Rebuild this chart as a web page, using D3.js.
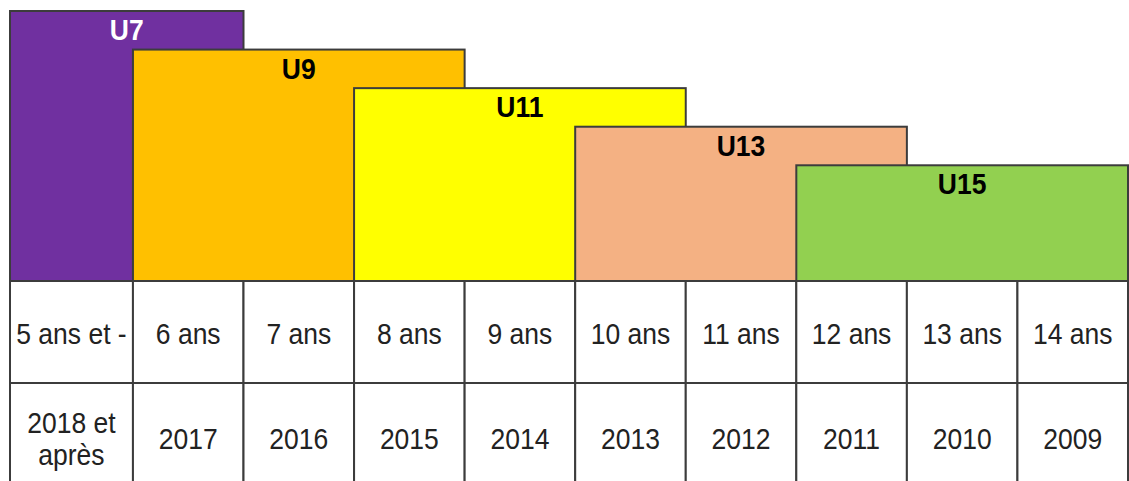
<!DOCTYPE html>
<html>
<head>
<meta charset="utf-8">
<script src="https://cdn.jsdelivr.net/npm/d3@7"></script>
<style>
  body { margin: 0; background: #fff; }
  svg { display: block; font-family: "Liberation Sans", Arial, sans-serif; }
</style>
</head>
<body>
<div id="chart-area"></div>
<script>
// table columns
const ages = ["5 ans et -", "6 ans", "7 ans", "8 ans", "9 ans", "10 ans", "11 ans", "12 ans", "13 ans", "14 ans"];
const years = ["2018 et\naprès", "2017", "2016", "2015", "2014", "2013", "2012", "2011", "2010", "2009"];

// categories: first / last column covered, and stacking level
const categories = ["U7", "U9", "U11", "U13", "U15"];
const firstCol = [0, 1, 3, 5, 7];
const lastCol = [1, 3, 5, 7, 9];
const levels = [7, 6, 5, 4, 3];

const fills = ["#7030a0", "#ffc000", "#ffff00", "#f4b183", "#92d050"];
const labelColors = ["#ffffff", "#000000", "#000000", "#000000", "#000000"];

const chartSize = { width: 1129, height: 481 };
const left = 10, right = 1128;
const blockTop = 11, blockBottom = 281;
const tableRows = [281, 383, 490];
const firstColWeight = 1.112;
const lineColor = "#3c3c3c";
const fontSize = 26.5;
const stretch = "scale(1,1.09)";

// column edges in "units" (first column is a bit wider)
const edges = [0];
ages.forEach((a, i) => edges.push(edges[i] + (i === 0 ? firstColWeight : 1)));

const x = d3.scaleLinear()
  .domain([0, edges[edges.length - 1]])
  .range([left, right]);

const y = d3.scaleLinear()
  .domain([0, d3.max(levels)])
  .range([blockBottom, blockTop]);

const colMid = c => (x(edges[c]) + x(edges[c + 1])) / 2;

const svg = d3.select("#chart-area")
  .append("svg")
  .attr("width", chartSize.width)
  .attr("height", chartSize.height);

// table cells
const cells = [];
ages.forEach((a, i) => {
  cells.push({ col: i, row: 0, text: a });
  cells.push({ col: i, row: 1, text: years[i] });
});

svg.append("g").selectAll("rect")
  .data(cells)
  .join("rect")
  .attr("x", d => x(edges[d.col]))
  .attr("y", d => tableRows[d.row])
  .attr("width", d => x(edges[d.col + 1]) - x(edges[d.col]))
  .attr("height", d => tableRows[d.row + 1] - tableRows[d.row])
  .attr("fill", "#fff")
  .attr("stroke", lineColor)
  .attr("stroke-width", 2);

const texts = svg.append("g").selectAll("text")
  .data(cells)
  .join("text")
  .attr("text-anchor", "middle")
  .attr("font-size", fontSize)
  .attr("fill", "#222")
  .attr("transform", d => `translate(${colMid(d.col)},${(tableRows[d.row] + tableRows[d.row + 1]) / 2 + 2}) ${stretch}`);

texts.each(function(d) {
  const lines = d.text.split("\n");
  const lh = 29;
  d3.select(this).selectAll("tspan")
    .data(lines)
    .join("tspan")
    .attr("x", 0)
    .attr("dy", (l, i) => i === 0 ? `${0.36 * fontSize - (lines.length - 1) * lh / 2}px` : `${lh}px`)
    .text(l => l);
});

// category blocks
const blocks = categories.map((c, i) => ({
  name: c, from: firstCol[i], to: lastCol[i], level: levels[i],
  fill: fills[i], color: labelColors[i]
}));

const bg = svg.append("g").selectAll("g")
  .data(blocks)
  .join("g");

bg.append("rect")
  .attr("x", d => x(edges[d.from]))
  .attr("y", d => y(d.level))
  .attr("width", d => x(edges[d.to + 1]) - x(edges[d.from]))
  .attr("height", d => y(0) - y(d.level))
  .attr("fill", d => d.fill)
  .attr("stroke", lineColor)
  .attr("stroke-width", 2);

bg.append("text")
  .attr("transform", d => `translate(${(x(edges[d.from]) + x(edges[d.to + 1])) / 2},${y(d.level) + 29}) ${stretch}`)
  .attr("text-anchor", "middle")
  .attr("font-size", fontSize)
  .attr("font-weight", "bold")
  .attr("fill", d => d.color)
  .text(d => d.name);
</script>
</body>
</html>
